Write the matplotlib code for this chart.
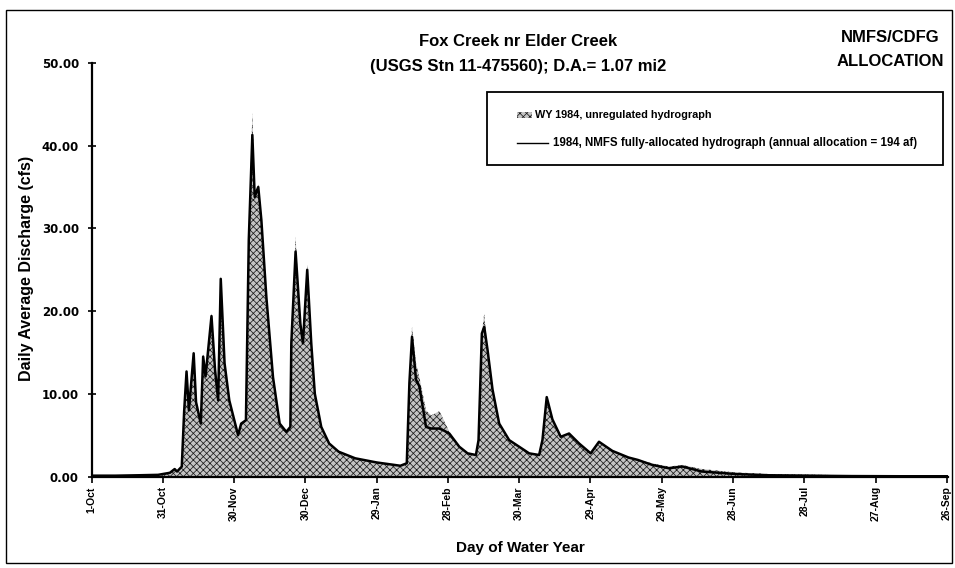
import matplotlib
matplotlib.use("Agg")
import matplotlib.pyplot as plt
from matplotlib.patches import Rectangle
from matplotlib.lines import Line2D

plt.rcParams['font.family'] = ['Liberation Sans', 'DejaVu Sans']
plt.rcParams['hatch.linewidth'] = 0.55

# ---- data ----
day_of_wy = [0, 10, 20, 28, 30, 33, 35, 36, 38, 39, 40, 41, 43, 44, 46, 47, 48, 50.5, 52,
             53.3, 54.4, 56, 58, 61.7, 63, 65, 66.2, 67.7, 68.7, 70.2, 71.5, 73.6, 76.4,
             79.2, 82, 83.7, 84.1, 85.9, 87.9, 89, 90.8, 92.5, 94, 96.7, 100, 104, 111,
             120, 130, 132.7, 133.8, 134.9, 136.6, 138, 140.8, 143, 146.4, 148, 150.6,
             154.8, 158.3, 161.8, 162.9, 164.3, 165.3, 166.7, 168.8, 171.6, 175.8, 180,
             184.2, 188.4, 189.8, 191.6, 194, 197.5, 201, 205.2, 210.1, 213.6, 219.2, 226,
             230, 236, 243, 248.7, 257, 271, 285, 301, 320, 340, 360, 365]
unregulated_cfs = [0.1, 0.1, 0.15, 0.2, 0.3, 0.45, 0.9, 0.6, 1.2, 7.9, 13.0, 8.0, 15.2, 9.0,
                   6.4, 15.0, 12.2, 19.8, 13.0, 9.3, 24.3, 13.8, 9.3, 5.0, 6.4, 6.8, 28.6,
                   44.0, 34.5, 35.3, 31.0, 21.7, 12.0, 6.4, 5.4, 6.0, 16.1, 29.0, 18.5, 16.1,
                   25.6, 16.1, 10.0, 6.0, 4.0, 3.0, 2.2, 1.7, 1.3, 1.6, 11.3, 18.1, 13.7,
                   12.0, 8.0, 7.4, 7.9, 7.0, 5.4, 3.6, 2.8, 2.6, 4.4, 17.3, 19.7, 15.3, 10.5,
                   6.4, 4.4, 3.6, 2.8, 2.6, 4.4, 9.6, 6.9, 4.8, 5.2, 4.0, 2.8, 4.2, 3.1, 2.3,
                   2.0, 1.6, 1.2, 1.4, 0.9, 0.5, 0.3, 0.25, 0.12, 0.05, 0.05, 0.05]
allocated_cfs = [0.1, 0.1, 0.15, 0.2, 0.3, 0.45, 0.9, 0.6, 1.2, 7.9, 12.7, 8.0, 14.9, 9.0,
                 6.4, 14.5, 12.1, 19.4, 12.9, 9.2, 23.9, 13.7, 9.2, 5.0, 6.4, 6.8, 28.6,
                 41.3, 33.8, 35.0, 31.0, 21.7, 12.0, 6.4, 5.4, 6.0, 16.1, 27.2, 18.5, 16.1,
                 25.0, 16.1, 10.0, 6.0, 4.0, 3.0, 2.2, 1.7, 1.3, 1.6, 11.3, 16.9, 11.7,
                 10.9, 6.0, 5.8, 5.8, 5.6, 5.2, 3.6, 2.8, 2.6, 4.4, 17.3, 18.1, 15.3, 10.5,
                 6.4, 4.4, 3.6, 2.8, 2.6, 4.4, 9.6, 6.9, 4.8, 5.2, 4.0, 2.8, 4.2, 3.1, 2.3,
                 2.0, 1.4, 1.0, 1.2, 0.6, 0.3, 0.15, 0.1, 0.05, 0.03, 0.03, 0.03]

tick_days = [0, 30, 60, 90, 120, 150, 180, 210, 240, 270, 300, 330, 360]
tick_labels = ['1-Oct', '31-Oct', '30-Nov', '30-Dec', '29-Jan', '28-Feb', '30-Mar',
               '29-Apr', '29-May', '28-Jun', '28-Jul', '27-Aug', '26-Sep']
y_ticks = [0, 10, 20, 30, 40, 50]

W, H = 955, 568
fig = plt.figure(figsize=(W / 100, H / 100), dpi=100)
ax = fig.add_axes([91.5 / W, 1 - 476.5 / H, (948 - 91.5) / W, (476.5 - 63) / H])

FILL = '#c4c4c4'
ax.fill_between(day_of_wy, 0, unregulated_cfs, facecolor=FILL, hatch='xxxxx',
                edgecolor='#1e1e1e', linewidth=0)
ax.plot(day_of_wy, allocated_cfs, color='black', linewidth=1.8)

ax.set_xlim(0, 360.5)
ax.set_ylim(0, 50)
ax.set_xticks(tick_days)
ax.set_xticklabels(tick_labels, rotation=90, fontsize=7.5, fontweight='bold')
ax.set_yticks(y_ticks)
ax.set_yticklabels(['%.2f' % v for v in y_ticks], fontsize=8.5, fontweight='bold',
                   family=['DejaVu Sans'])
ax.tick_params(axis='x', direction='out', length=4, width=1.2, pad=3)
ax.tick_params(axis='y', direction='inout', length=6, width=1.2, pad=6)
for s in ['top', 'right']:
    ax.spines[s].set_visible(False)
for s in ['left', 'bottom']:
    ax.spines[s].set_linewidth(1.6)


def fx(x):
    return x / W


def fy(y):
    return 1 - y / H


# axis titles
fig.text(fx(520), fy(548), 'Day of Water Year', ha='center', va='center',
         fontsize=11, fontweight='bold')
fig.text(fx(27), fy(268), 'Daily Average Discharge (cfs)', ha='center', va='center',
         rotation=90, fontsize=11.5, fontweight='bold')

# chart titles
fig.text(fx(518), fy(42), 'Fox Creek nr Elder Creek', ha='center', va='center',
         fontsize=12, fontweight='bold')
fig.text(fx(518), fy(66), '(USGS Stn 11-475560); D.A.= 1.07 mi2', ha='center',
         va='center', fontsize=12, fontweight='bold')
fig.text(fx(890), fy(37), 'NMFS/CDFG', ha='center', va='center', fontsize=12,
         fontweight='bold')
fig.text(fx(890), fy(61), 'ALLOCATION', ha='center', va='center', fontsize=12,
         fontweight='bold')

# legend box (drawn in figure pixels)
fig.patches.append(Rectangle((fx(487), fy(165)), fx(943) - fx(487), fy(92) - fy(165),
                             transform=fig.transFigure, facecolor='white',
                             edgecolor='black', linewidth=1.3, zorder=5))
fig.patches.append(Rectangle((fx(517), fy(118)), fx(532) - fx(517), fy(112) - fy(118),
                             transform=fig.transFigure, facecolor=FILL,
                             hatch='xxxxx', edgecolor='#1e1e1e', linewidth=0, zorder=6))
fig.lines.append(Line2D([fx(517), fx(548)], [fy(143), fy(143)], transform=fig.transFigure,
                        color='black', linewidth=1.0, zorder=6))
fig.text(fx(535), fy(115), 'WY 1984, unregulated hydrograph', ha='left', va='center',
         fontsize=7.8, fontweight='bold', zorder=7)
fig.text(fx(553), fy(143), '1984, NMFS fully-allocated hydrograph (annual allocation = 194 af)',
         ha='left', va='center', fontsize=8.3, fontweight='bold', zorder=7)

# outer frame
fig.patches.append(Rectangle((fx(6), fy(563)), fx(952) - fx(6), fy(10) - fy(563),
                             transform=fig.transFigure, facecolor='none',
                             edgecolor='black', linewidth=1.0, zorder=1))

fig.savefig('out.png', dpi=100)
